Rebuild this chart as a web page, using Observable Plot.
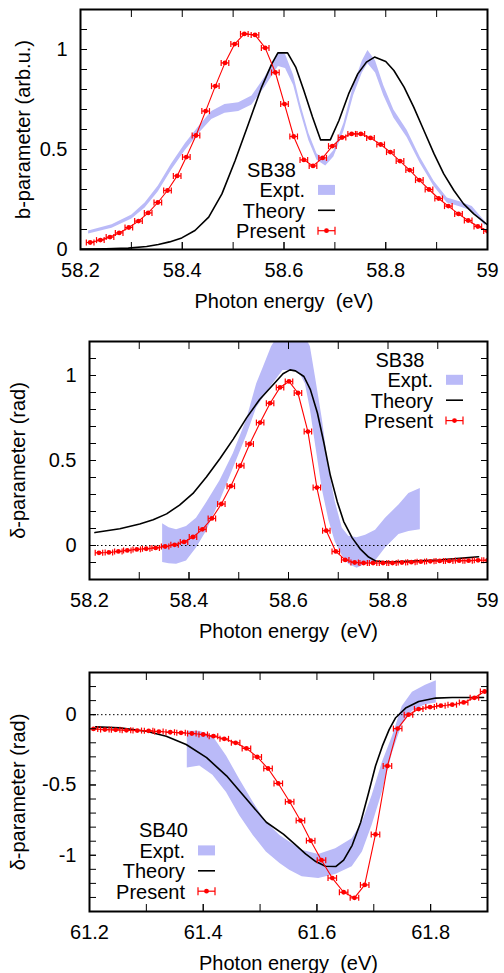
<!DOCTYPE html>
<html>
<head>
<meta charset="utf-8">
<script src="https://cdn.jsdelivr.net/npm/d3@7"></script>
<script src="https://cdn.jsdelivr.net/npm/@observablehq/plot@0.6"></script>
<style>
  body { margin: 0; background: #fff; }
  #chart svg { display: block; }
</style>
</head>
<body>
<div id="chart"></div>
<script>
// ---------------- DATA ----------------
const seriesNames = ["Expt.", "Theory", "Present"];
const xAxisLabel = "Photon energy\u00a0 (eV)";

// Panel 1: SB38 b-parameter
const p1Title = "SB38";
const p1YLabel = "b-parameter (arb.u.)";
const p1PresentX = [58.219, 58.239, 58.258, 58.276, 58.295, 58.314, 58.333, 58.352, 58.371, 58.390,
  58.408, 58.427, 58.446, 58.465, 58.484, 58.503, 58.522, 58.543, 58.563, 58.583,
  58.601, 58.619, 58.639, 58.657, 58.676, 58.695, 58.714, 58.733, 58.751, 58.770,
  58.790, 58.809, 58.828, 58.847, 58.866, 58.885, 58.904, 58.923, 58.943, 58.962,
  58.981, 59.000];
const p1PresentY = [0.035, 0.047, 0.062, 0.083, 0.110, 0.142, 0.183, 0.235, 0.295, 0.368,
  0.462, 0.570, 0.692, 0.817, 0.933, 1.027, 1.078, 1.073, 1.008, 0.885,
  0.727, 0.565, 0.448, 0.418, 0.458, 0.517, 0.560, 0.578, 0.578, 0.558,
  0.525, 0.487, 0.442, 0.397, 0.347, 0.300, 0.255, 0.217, 0.178, 0.145,
  0.115, 0.092];
const p1TheoryX = [58.200, 58.250, 58.294, 58.330, 58.353, 58.375, 58.399, 58.425, 58.452, 58.478,
  58.504, 58.530, 58.556, 58.576, 58.588, 58.607, 58.623, 58.639, 58.656, 58.672,
  58.691, 58.708, 58.727, 58.745, 58.762, 58.778, 58.800, 58.816, 58.836, 58.855,
  58.875, 58.895, 58.914, 58.934, 58.953, 58.973, 58.999];
const p1TheoryY = [0.002, 0.004, 0.007, 0.015, 0.025, 0.038, 0.058, 0.095, 0.162, 0.278,
  0.445, 0.628, 0.812, 0.928, 0.983, 0.983, 0.912, 0.795, 0.662, 0.548,
  0.548, 0.645, 0.778, 0.878, 0.937, 0.962, 0.940, 0.895, 0.812, 0.712,
  0.595, 0.478, 0.378, 0.295, 0.228, 0.178, 0.125];
const p1ExptX = [58.216, 58.262, 58.301, 58.327, 58.353, 58.379, 58.406, 58.432, 58.458, 58.484,
  58.511, 58.537, 58.563, 58.589, 58.603, 58.619, 58.632, 58.649, 58.665, 58.682,
  58.698, 58.718, 58.737, 58.754, 58.765, 58.780, 58.796, 58.816, 58.842, 58.868,
  58.895, 58.921, 58.947, 58.970, 58.996];
const p1ExptLo = [0.077, 0.106, 0.152, 0.208, 0.289, 0.396, 0.495, 0.577, 0.650, 0.681,
  0.690, 0.723, 0.812, 0.915, 0.905, 0.820, 0.692, 0.544, 0.446, 0.417,
  0.462, 0.592, 0.770, 0.882, 0.929, 0.882, 0.770, 0.658, 0.560, 0.430,
  0.315, 0.233, 0.213, 0.191, 0.118];
const p1ExptHi = [0.093, 0.124, 0.172, 0.232, 0.317, 0.428, 0.529, 0.613, 0.690, 0.725,
  0.734, 0.767, 0.862, 0.985, 0.975, 0.870, 0.732, 0.580, 0.478, 0.447,
  0.494, 0.632, 0.820, 0.942, 0.995, 0.942, 0.820, 0.698, 0.596, 0.460,
  0.341, 0.257, 0.237, 0.215, 0.138];

// Panel 2: SB38 delta-parameter
const p2Title = "SB38";
const p2YLabel = "\u03b4-parameter (rad)";
const p2PresentX = p1PresentX;
const p2PresentY = [-0.043, -0.041, -0.035, -0.029, -0.023, -0.019, -0.014, -0.006, 0.004, 0.021,
  0.050, 0.095, 0.159, 0.244, 0.349, 0.469, 0.597, 0.723, 0.837, 0.930,
  0.965, 0.897, 0.670, 0.341, 0.087, -0.035, -0.085, -0.100, -0.103, -0.103,
  -0.103, -0.103, -0.100, -0.098, -0.095, -0.093, -0.091, -0.091, -0.089, -0.089,
  -0.087, -0.087];
const p2TheoryX = [58.211, 58.261, 58.301, 58.328, 58.355, 58.381, 58.408, 58.435, 58.462, 58.489,
  58.516, 58.542, 58.569, 58.589, 58.603, 58.614, 58.631, 58.644, 58.658, 58.671,
  58.684, 58.698, 58.711, 58.728, 58.745, 58.761, 58.775, 58.800, 58.850, 58.900,
  58.950, 58.982];
const p2TheoryY = [0.076, 0.099, 0.126, 0.151, 0.186, 0.238, 0.306, 0.403, 0.510, 0.626,
  0.752, 0.859, 0.946, 1.010, 1.033, 1.027, 0.994, 0.917, 0.781, 0.606,
  0.413, 0.258, 0.141, 0.045, -0.023, -0.068, -0.091, -0.097, -0.092, -0.085,
  -0.074, -0.066];
const p2ExptX = [58.347, 58.360, 58.375, 58.395, 58.415, 58.435, 58.462, 58.489, 58.516, 58.536,
  58.550, 58.566, 58.589, 58.610, 58.625, 58.634, 58.644, 58.654, 58.668, 58.681,
  58.694, 58.708, 58.721, 58.738, 58.755, 58.775, 58.795, 58.822, 58.842, 58.865];
const p2ExptLo = [-0.100, -0.108, -0.110, -0.091, -0.014, 0.083, 0.258, 0.452, 0.645, 0.810,
  0.870, 0.940, 1.030, 1.030, 1.000, 0.950, 0.800, 0.600, 0.330, 0.150,
  0.020, -0.060, -0.110, -0.134, -0.110, -0.091, -0.014, 0.064, 0.083, 0.093];
const p2ExptHi = [0.128, 0.105, 0.093, 0.112, 0.160, 0.250, 0.380, 0.540, 0.740, 0.950,
  1.052, 1.169, 1.280, 1.300, 1.260, 1.227, 1.169, 0.994, 0.742, 0.452,
  0.258, 0.103, 0.054, 0.045, 0.060, 0.090, 0.161, 0.238, 0.306, 0.335];

// Panel 3: SB40 delta-parameter
const p3Title = "SB40";
const p3YLabel = "\u03b4-parameter (rad)";
const p3PresentX = [61.207, 61.227, 61.246, 61.265, 61.284, 61.304, 61.322, 61.342, 61.361, 61.380,
  61.400, 61.418, 61.437, 61.457, 61.476, 61.495, 61.514, 61.532, 61.552, 61.571,
  61.589, 61.608, 61.627, 61.647, 61.666, 61.684, 61.703, 61.724, 61.742, 61.761,
  61.779, 61.799, 61.818, 61.838, 61.858, 61.877, 61.895];
const p3PresentY = [-0.101, -0.106, -0.108, -0.111, -0.113, -0.115, -0.120, -0.125, -0.129, -0.134,
  -0.141, -0.153, -0.172, -0.200, -0.240, -0.301, -0.383, -0.489, -0.619, -0.753,
  -0.896, -1.035, -1.162, -1.263, -1.303, -1.211, -0.852, -0.365, -0.099, 0.000,
  0.040, 0.054, 0.064, 0.071, 0.087, 0.120, 0.165];
const p3TheoryX = [61.211, 61.253, 61.300, 61.335, 61.370, 61.406, 61.441, 61.476, 61.511, 61.541,
  61.562, 61.580, 61.598, 61.615, 61.633, 61.647, 61.662, 61.677, 61.691, 61.703,
  61.715, 61.727, 61.738, 61.756, 61.779, 61.809, 61.838, 61.893];
const p3TheoryY = [-0.087, -0.094, -0.118, -0.153, -0.212, -0.306, -0.435, -0.600, -0.765, -0.850,
  -0.925, -0.990, -1.045, -1.078, -1.080, -1.035, -0.929, -0.765, -0.553, -0.365,
  -0.224, -0.106, -0.024, 0.047, 0.094, 0.118, 0.122, 0.122];
const p3ExptX = [61.372, 61.394, 61.417, 61.441, 61.464, 61.488, 61.511, 61.535, 61.552, 61.574,
  61.603, 61.633, 61.662, 61.680, 61.697, 61.715, 61.733, 61.750, 61.768, 61.791, 61.810];
const p3ExptLo = [-0.379, -0.365, -0.430, -0.553, -0.718, -0.859, -0.976, -1.059, -1.106, -1.153,
  -1.165, -1.136, -1.082, -0.976, -0.788, -0.553, -0.270, -0.071, 0.024, 0.071, 0.083];
const p3ExptHi = [-0.118, -0.118, -0.153, -0.294, -0.459, -0.623, -0.765, -0.859, -0.906, -0.965,
  -0.995, -0.953, -0.882, -0.765, -0.577, -0.341, -0.153, 0.059, 0.160, 0.210, 0.242];

const xerr = 0.0075; // horizontal error bar half-width (eV)

// Tick positions / labels
const p12XTicks = [58.2, 58.3, 58.4, 58.5, 58.6, 58.7, 58.8, 58.9, 59.0];
const p12XLabels = [58.2, 58.4, 58.6, 58.8, 59];
const p1YTicks = [0, 0.1, 0.2, 0.3, 0.4, 0.5, 0.6, 0.7, 0.8, 0.9, 1.0, 1.1];
const p1YLabels = [0, 0.5, 1];
const p2YTicks = [-0.1, 0, 0.1, 0.2, 0.3, 0.4, 0.5, 0.6, 0.7, 0.8, 0.9, 1.0, 1.1];
const p2YLabels = [0, 0.5, 1];
const p3XTicks = [61.2, 61.3, 61.4, 61.5, 61.6, 61.7, 61.8, 61.9];
const p3XLabels = [61.2, 61.4, 61.6, 61.8];
const p3YTicks = [-1.3, -1.2, -1.1, -1.0, -0.9, -0.8, -0.7, -0.6, -0.5, -0.4, -0.3, -0.2, -0.1, 0, 0.1, 0.2];
const p3YLabels = [-1, -0.5, 0];

// ---------------- STYLE ----------------
const FONT = "'Liberation Sans', Arial, Helvetica, sans-serif";
const BAND = "#babaf8";
const RED = "#ff0000";
const capSymbol = {
  draw(context, size) {
    const r = Math.sqrt(size / Math.PI);
    context.moveTo(0, -r);
    context.lineTo(0, r);
  }
};

function rows(xs, ys) { return xs.map((x, i) => ({x, y: ys[i]})); }
function band(xs, lo, hi) { return xs.map((x, i) => ({x, lo: lo[i], hi: hi[i]})); }

function panel(cfg) {
  const present = rows(cfg.presentX, cfg.presentY);
  const theory = rows(cfg.theoryX, cfg.theoryY);
  const expt = band(cfg.exptX, cfg.exptLo, cfg.exptHi);
  const blank = () => "";
  const marks = [
    Plot.areaY(expt, {x: "x", y1: "lo", y2: "hi", fill: BAND, clip: true}),
  ];
  if (cfg.zeroLine) marks.push(Plot.ruleY([0], {stroke: "#000", strokeWidth: 1, strokeDasharray: "1.5,2.5"}));
  marks.push(
    Plot.line(theory, {x: "x", y: "y", stroke: "#000", strokeWidth: 1.6, clip: true}),
    Plot.line(present, {x: "x", y: "y", stroke: RED, strokeWidth: 1.1, clip: true}),
    Plot.link(present, {x1: d => d.x - xerr, x2: d => d.x + xerr, y1: "y", y2: "y", stroke: RED, strokeWidth: 1.2, clip: true}),
    Plot.dot(present, {x: d => d.x - xerr, y: "y", symbol: capSymbol, r: 3, stroke: RED, fill: "none", strokeWidth: 1.2, clip: true}),
    Plot.dot(present, {x: d => d.x + xerr, y: "y", symbol: capSymbol, r: 3, stroke: RED, fill: "none", strokeWidth: 1.2, clip: true}),
    Plot.dot(present, {x: "x", y: "y", r: 2.4, fill: RED, stroke: "none", clip: true}),
    Plot.axisX(cfg.xTicks, {anchor: "bottom", tickSize: -7, tickFormat: blank, label: null}),
    Plot.axisX(cfg.xTicks, {anchor: "top", tickSize: -7, tickFormat: blank, label: null}),
    Plot.axisX(cfg.xLabels, {anchor: "bottom", tickSize: -7, tickPadding: 20, tickFormat: d => String(d), label: null, fontSize: 20}),
    Plot.axisY(cfg.yTicks, {anchor: "left", tickSize: -7, tickFormat: blank, label: null}),
    Plot.axisY(cfg.yTicks, {anchor: "right", tickSize: -7, tickFormat: blank, label: null}),
    Plot.axisY(cfg.yLabels, {anchor: "left", tickSize: -7, tickPadding: 20, tickFormat: d => String(d), label: null, fontSize: 20}),
    Plot.frame({stroke: "#000", strokeWidth: 2}),
    Plot.text([xAxisLabel], {frameAnchor: "bottom", text: d => d, dy: 58, lineAnchor: "bottom", textAnchor: "middle", fontSize: 20}),
    Plot.text([cfg.yLabel], {frameAnchor: "left", text: d => d, rotate: -90, dx: cfg.yLabelDx, lineAnchor: "middle", textAnchor: "middle", fontSize: 20})
  );
  const svg = Plot.plot({
    width: 504,
    height: cfg.height,
    marginLeft: cfg.marginLeft,
    marginRight: 17,
    marginTop: cfg.marginTop,
    marginBottom: cfg.marginBottom,
    style: {fontFamily: FONT, fontSize: "20px", color: "#000", background: "#fff", overflow: "visible"},
    x: {domain: cfg.xDomain},
    y: {domain: cfg.yDomain},
    marks
  });
  drawLegend(svg, cfg.legend, cfg.title);
  return svg;
}

function drawLegend(svg, L, title) {
  const g = d3.select(svg).append("g")
    .attr("font-family", FONT).attr("font-size", 20).attr("fill", "#000");
  g.append("text").attr("x", L.titleX).attr("y", L.y).attr("text-anchor", "middle").text(title);
  const step = 20.4;
  const sx = L.x + 13, sw = 17;
  seriesNames.forEach((name, i) => {
    const by = L.y + step * (i + 1);
    g.append("text").attr("x", L.x).attr("y", by).attr("text-anchor", "end").text(name);
    const cy = by - 7.3;
    if (i === 0) {
      g.append("rect").attr("x", sx).attr("y", cy - 5).attr("width", sw).attr("height", 10).attr("fill", BAND);
    } else if (i === 1) {
      g.append("line").attr("x1", sx).attr("x2", sx + sw).attr("y1", cy).attr("y2", cy).attr("stroke", "#000").attr("stroke-width", 1.6);
    } else {
      g.append("line").attr("x1", sx).attr("x2", sx + sw).attr("y1", cy).attr("y2", cy).attr("stroke", RED).attr("stroke-width", 1.2);
      g.append("line").attr("x1", sx).attr("x2", sx).attr("y1", cy - 4).attr("y2", cy + 4).attr("stroke", RED).attr("stroke-width", 1.2);
      g.append("line").attr("x1", sx + sw).attr("x2", sx + sw).attr("y1", cy - 4).attr("y2", cy + 4).attr("stroke", RED).attr("stroke-width", 1.2);
      g.append("circle").attr("cx", sx + sw / 2).attr("cy", cy).attr("r", 2.4).attr("fill", RED);
    }
  });
}

const root = document.getElementById("chart");
root.append(panel({
  height: 320, marginLeft: 80, marginTop: 9, marginBottom: 71,
  xDomain: [58.2, 59], yDomain: [0, 1.2],
  xTicks: p12XTicks, xLabels: p12XLabels, yTicks: p1YTicks, yLabels: p1YLabels,
  yLabel: p1YLabel, yLabelDx: -57, zeroLine: false, title: p1Title,
  presentX: p1PresentX, presentY: p1PresentY, theoryX: p1TheoryX, theoryY: p1TheoryY,
  exptX: p1ExptX, exptLo: p1ExptLo, exptHi: p1ExptHi,
  legend: {x: 305, y: 176.8, titleX: 271.5}
}));
root.append(panel({
  height: 325, marginLeft: 89, marginTop: 21, marginBottom: 66,
  xDomain: [58.2, 59], yDomain: [-0.2, 1.2],
  xTicks: p12XTicks, xLabels: p12XLabels, yTicks: p2YTicks, yLabels: p2YLabels,
  yLabel: p2YLabel, yLabelDx: -71, zeroLine: true, title: p2Title,
  presentX: p2PresentX, presentY: p2PresentY, theoryX: p2TheoryX, theoryY: p2TheoryY,
  exptX: p2ExptX, exptLo: p2ExptLo, exptHi: p2ExptHi,
  legend: {x: 433, y: 46.7, titleX: 400}
}));
root.append(panel({
  height: 328, marginLeft: 89, marginTop: 27, marginBottom: 62,
  xDomain: [61.2, 61.9], yDomain: [-1.4, 0.3],
  xTicks: p3XTicks, xLabels: p3XLabels, yTicks: p3YTicks, yLabels: p3YLabels,
  yLabel: p3YLabel, yLabelDx: -71, zeroLine: true, title: p3Title,
  presentX: p3PresentX, presentY: p3PresentY, theoryX: p3TheoryX, theoryY: p3TheoryY,
  exptX: p3ExptX, exptLo: p3ExptLo, exptHi: p3ExptHi,
  legend: {x: 185, y: 192.3, titleX: 163.5}
}));
</script>
</body>
</html>
